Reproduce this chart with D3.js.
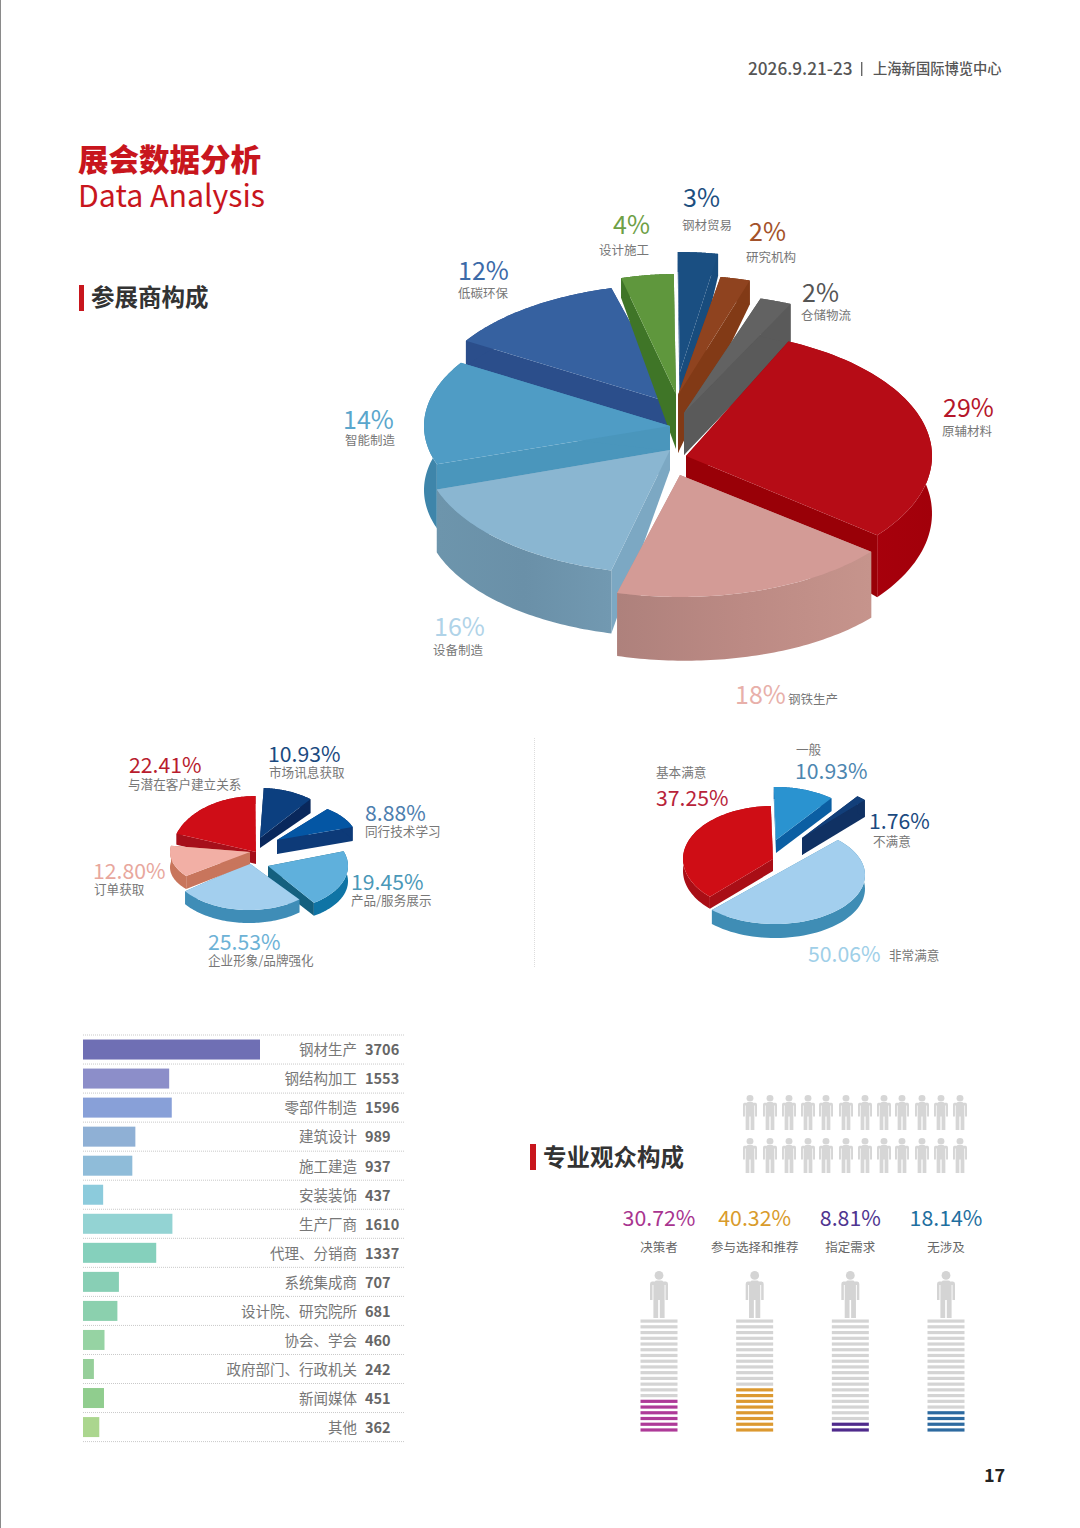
<!DOCTYPE html>
<html><head><meta charset="utf-8">
<script src="https://cdn.jsdelivr.net/npm/d3@7"></script>
<style>
html,body{margin:0;padding:0;background:#fff}
svg{display:block}
text{font-family:"Noto Sans CJK SC","Noto Sans",sans-serif;dominant-baseline:central}
</style></head><body>
<svg id="c" width="1080" height="1528"></svg>
<script>
// ---------- data ----------
const exhibitorCats = ["原辅材料","钢铁生产","设备制造","智能制造","低碳环保","设计施工","钢材贸易","研究机构","仓储物流"];
const exhibitorVals = [29,18,16,14,12,4,3,2,2];
const purposeCats = ["与潜在客户建立关系","市场讯息获取","同行技术学习","产品/服务展示","企业形象/品牌强化","订单获取"];
const purposeVals = [22.41,10.93,8.88,19.45,25.53,12.80];
const satisfyCats = ["基本满意","一般","不满意","非常满意"];
const satisfyVals = [37.25,10.93,1.76,50.06];
const barCats = ["钢材生产","钢结构加工","零部件制造","建筑设计","施工建造","安装装饰","生产厂商","代理、分销商","系统集成商","设计院、研究院所","协会、学会","政府部门、行政机关","新闻媒体","其他"];
const barVals = [3706,1553,1596,989,937,437,1610,1337,707,681,460,242,451,362];
const visitorCats = ["决策者","参与选择和推荐","指定需求","无涉及"];
const visitorVals = [30.72,40.32,8.81,18.14];

// ---------- layout / style ----------
const rad = d => d*Math.PI/180;
const svg = d3.select("#c");
const defs = svg.append("defs");
let gid = 0;

function hGrad(stops){
  const id = "g"+(gid++);
  const g = defs.append("linearGradient").attr("id",id).attr("x1",0).attr("x2",1).attr("y1",0).attr("y2",0);
  stops.forEach((c,i)=>g.append("stop").attr("offset",i/(stops.length-1)).attr("stop-color",c));
  return `url(#${id})`;
}

function drawPie(values, startDeg, geom){
  const arcs = d3.pie().sort(null).value(d=>d).startAngle(rad(startDeg)).endAngle(rad(startDeg+360))(values);
  const g = svg.append("g");
  const line = d3.line();
  const items = arcs.map((a,i)=>({a0:a.startAngle+rad(geom[i].d0||0),a1:a.endAngle+rad(geom[i].d1||0),s:geom[i]}))
    .sort((p,q)=>p.s.z-q.s.z);
  items.forEach(({a0,a1,s})=>{
    const pt = (t,drop)=>[s.ax+s.rx*Math.sin(t), s.ay-s.ry*Math.cos(t)+drop];
    const ts = d3.range(0,61).map(i=>a0+(a1-a0)*i/60);
    const hAt = i=>s.hS+(s.hE-s.hS)*i/60;
    const apex=[s.ax,s.ay], apexB=[s.ax,s.ay+s.hA];
    g.append("path").attr("d",line([apex,pt(a0,0),pt(a0,s.hS),apexB])+"Z").attr("fill",s.cut);
    g.append("path").attr("d",line([apex,pt(a1,0),pt(a1,s.hE),apexB])+"Z").attr("fill",s.cut);
    const top = ts.map(t=>pt(t,0));
    const bot = ts.map((t,i)=>pt(t,hAt(i))).reverse();
    g.append("path").attr("d",line(top.concat(bot))+"Z").attr("fill",s.wall);
    g.append("path").attr("d",line([apex].concat(top))+"Z").attr("fill",s.top);
  });
}

// big pie
drawPie(exhibitorVals,24.6,[
 {z:8,ax:686,ay:456,rx:246,ry:126,hS:50,hE:62,hA:29,top:"#b60c16",cut:"#990007",wall:hGrad(["#9c0008","#a8000c","#a2000a"])},
 {z:9,ax:680,ay:475,rx:246,ry:122,d1:1,hS:66,hE:63,hA:20,top:"#d39b96",cut:"#c08f8a",wall:hGrad(["#ae817c","#bc8a84","#c6948c"])},
 {z:7,ax:670,ay:450,rx:246,ry:124,hS:63,hE:63,hA:20,top:"#8ab6d1",cut:"#7ca8c3",wall:hGrad(["#6d95ac","#6a90a8","#7299b1"])},
 {z:6,ax:670,ay:426,rx:246,ry:120,hS:64,hE:64,hA:25,top:"#4f9cc5",cut:"#4a96bc",wall:"#3e85aa"},
 {z:1,ax:675,ay:404,rx:246,ry:120,hS:26,hE:24,hA:24,top:"#3661a0",cut:"#2b4e8b",wall:"#2b4e8b"},
 {z:2,ax:676,ay:394,rx:212,ry:120,hS:20,hE:20,hA:55,top:"#5f973d",cut:"#3f7527",wall:"#3f7527"},
 {z:3,ax:680,ay:372,rx:215,ry:120,hS:20,hE:22,hA:65,top:"#1a4f82",cut:"#184c7d",wall:"#184c7d"},
 {z:4,ax:678,ay:395,rx:240,ry:120,hS:22,hE:24,hA:58,top:"#8f431f",cut:"#823a16",wall:"#823a16"},
 {z:5,ax:684,ay:413,rx:256,ry:120,hS:38,hE:40,hA:42,top:"#626262",cut:"#5a5a5a",wall:"#5a5a5a"}
]);

// left pie
drawPie(purposeVals,279,[
 {z:5,ax:256,ay:852,rx:84,ry:56,d0:10,hS:11,hE:8,hA:12,top:"#cf0d17",cut:"#a60f1a",wall:"#a60f1a"},
 {z:1,ax:260,ay:838,rx:80,ry:50,d0:3,hS:10,hE:14,hA:10,top:"#0c3f7f",cut:"#09285c",wall:"#09285c"},
 {z:2,ax:277,ay:840,rx:80,ry:40,hS:14,hE:14,hA:14,top:"#0456a4",cut:"#0d3a78",wall:"#0d3a78"},
 {z:3,ax:268,ay:866,rx:80,ry:45,d1:4,hS:16,hE:13,hA:14,top:"#5fb0dc",cut:"#14607f",wall:"#0f74a5"},
 {z:4,ax:249,ay:863,rx:80,ry:47,hS:13,hE:13,hA:13,top:"#a3cfee",cut:"#3f8db7",wall:"#3f8db7"},
 {z:6,ax:250,ay:852,rx:80,ry:40,hS:13,hE:16,hA:12,top:"#f2afa5",cut:"#c8755c",wall:"#c8755c"}
]);

// right pie
drawPie(satisfyVals,224.5,[
 {z:2,ax:773,ay:859,rx:90,ry:53,hS:12,hE:12,hA:12,top:"#cf0d15",cut:"#a90e16",wall:"#a90e16"},
 {z:1,ax:776,ay:840,rx:90,ry:53,hS:12,hE:13,hA:13,top:"#2a93d0",cut:"#0b5fa3",wall:"#0b5fa3"},
 {z:3,ax:802,ay:838,rx:90,ry:53,hS:17,hE:17,hA:17,top:"#123f7a",cut:"#103163",wall:"#103163"},
 {z:4,ax:775,ay:875,rx:90,ry:49,hS:14,hE:14,hA:14,top:"#a3cfee",cut:"#3f8db5",wall:"#3f8db5"}
]);

function txt(s,x,y,size,fill,weight,anchor){
  return svg.append("text").text(s).attr("x",x).attr("y",y-size*0.08).attr("font-size",size)
    .attr("fill",fill).attr("font-weight",weight||400).attr("text-anchor",anchor||"start");
}
const pct = (v,d) => v.toFixed(d)+"%";

// page furniture
svg.append("rect").attr("x",0).attr("y",0).attr("width",1).attr("height",1528).attr("fill","#8a8a8a");
txt("2026.9.21-23",748,69,17.2,"#555",500);
svg.append("rect").attr("x",861).attr("y",62).attr("width",1.4).attr("height",14).attr("fill","#666");
txt("上海新国际博览中心",873,69,14.3,"#555",500);
txt("展会数据分析",78,160,30.5,"#c8161d",900);
txt("Data Analysis",78,196,30.3,"#c8161d",400);
svg.append("rect").attr("x",79).attr("y",285).attr("width",5).attr("height",26).attr("fill","#c8161d");
txt("参展商构成",91,298,23.5,"#333",700);
svg.append("rect").attr("x",530).attr("y",1144).attr("width",6).attr("height",26).attr("fill","#c8161d");
txt("专业观众构成",543,1158,23.5,"#333",700);
txt("17",984,1475,18,"#222",700);
svg.append("line").attr("x1",534.5).attr("x2",534.5).attr("y1",738).attr("y2",968)
  .attr("stroke","#ddd").attr("stroke-dasharray","1 1");

// big pie labels: [pct x, pct y, label x, label y, colour]
const bigPos = [[943,408,942,431,"#b5162a"],[735,695,788,699,"#e8b0aa"],[434,627,433,650,"#b0d3e8"],[343,420,345,440,"#5aa6cc"],
 [458,271,458,293,"#3c6aa8"],[613,225,599,250,"#6ea046"],[683,198,682,225,"#1d4f7f"],[749,232,746,257,"#a3522a"],[802,293,801,315,"#555"]];
exhibitorVals.forEach((v,i)=>{const p=bigPos[i];
  txt(pct(v,0),p[0],p[1],25,p[4]); txt(exhibitorCats[i],p[2],p[3],12.5,"#777");});

const leftPos = [[129,765,128,785,"#b81c2e"],[268,754,269,773,"#1b4a80"],[365,813,365,832,"#4d7eae"],
 [351,882,351,901,"#4a98b8"],[208,942,208,961,"#6db2d6"],[93,871,94,890,"#e8a79d"]];
purposeVals.forEach((v,i)=>{const p=leftPos[i];
  txt(pct(v,2),p[0],p[1],21.2,p[4]); txt(purposeCats[i],p[2],p[3],12.6,"#777");});

const rightPos = [[656,798,656,773,"#b8243a"],[795,771,796,750,"#4d86b0"],[869,821,873,842,"#1b4a80"],[808,954,889,956,"#a0cfe8"]];
satisfyVals.forEach((v,i)=>{const p=rightPos[i];
  txt(pct(v,2),p[0],p[1],21.2,p[4]); txt(satisfyCats[i],p[2],p[3],12.6,"#777");});

// bars
const barColors = ["#6f6fb4","#8c8ec9","#88a0d8","#8fb0d5","#8fbcd9","#8ccbdc","#93d3d3","#85d0bc","#88cfb5","#8bd0ae","#96d3a3","#96cf9a","#90cd8e","#abd68e"];
const y = d3.scaleBand().domain(barCats).range([1035,1441.6]);
const x = d3.scaleLinear().domain([0,400,1000,1600,3706]).range([83,101,136,172,260]);
const barG = svg.append("g");
[barCats[0]].concat(barCats).forEach((c,i)=>{
  const ly = i===0 ? y(c) : y(c)+y.bandwidth();
  barG.append("line").attr("x1",83).attr("x2",404).attr("y1",ly).attr("y2",ly)
    .attr("stroke","#c9c9c9").attr("stroke-width",1).attr("stroke-dasharray","1 1");
});
barCats.forEach((c,i)=>{
  const cy = y(c)+y.bandwidth()/2;
  barG.append("rect").attr("x",x(0)).attr("y",cy-10).attr("width",x(barVals[i])-x(0)).attr("height",20).attr("fill",barColors[i]);
  txt(c,357,cy+0.5,14.5,"#777",400,"end");
  txt(barVals[i],365,cy+0.5,14.5,"#666",700);
});

// people
function person(px,py,w,h,fill){
  const sx=w/18, sy=h/47;
  const d="M5,10.5 Q5,9.5 6.5,9.5 L11.5,9.5 Q13,9.5 13,10.5 L16,10.5 Q18,10.5 18,13 L18,29 L15.5,29 L15.5,14 L14.6,14 L14.6,47 L9.8,47 L9.8,29 L8.2,29 L8.2,47 L3.4,47 L3.4,14 L2.5,14 L2.5,29 L0,29 L0,13 Q0,10.5 2,10.5 Z";
  const g=svg.append("g").attr("transform",`translate(${px-w/2},${py}) scale(${sx},${sy})`).attr("fill",fill);
  g.append("path").attr("d",d);
  g.append("ellipse").attr("cx",9).attr("cy",4.4).attr("rx",4.4).attr("ry",4.4);
}
const smallX = [750,770,789,808,826,846,865,884,902,922,941,960];
[1095,1138].forEach(py=>smallX.forEach(px=>person(px,py,14,35,"#d6d6d6")));

const visX = d3.scalePoint().domain(visitorCats).range([659,946]);
const visCol = ["#a8348f","#d99b2b","#4f3590","#1f6fa0"];
const stripeCol = ["#ae3a98","#dc9930","#4f2a8c","#2d6aa0"];
const STRIPES = 20;
visitorCats.forEach((c,i)=>{
  const cx=visX(c);
  txt(pct(visitorVals[i],2),cx,1218,21.3,visCol[i],400,"middle");
  txt(c,cx,1247,12.5,"#666",400,"middle");
  person(cx,1271,18,47,"#d4d4d4");
  const on=Math.round(visitorVals[i]/100*STRIPES);
  d3.range(STRIPES).forEach(k=>{
    svg.append("rect").attr("x",cx-18.5).attr("width",37).attr("y",1319.5+k*5.73).attr("height",3.2)
      .attr("fill",k>=STRIPES-on?stripeCol[i]:"#d4d4d4");
  });
});
</script>
</body></html>
